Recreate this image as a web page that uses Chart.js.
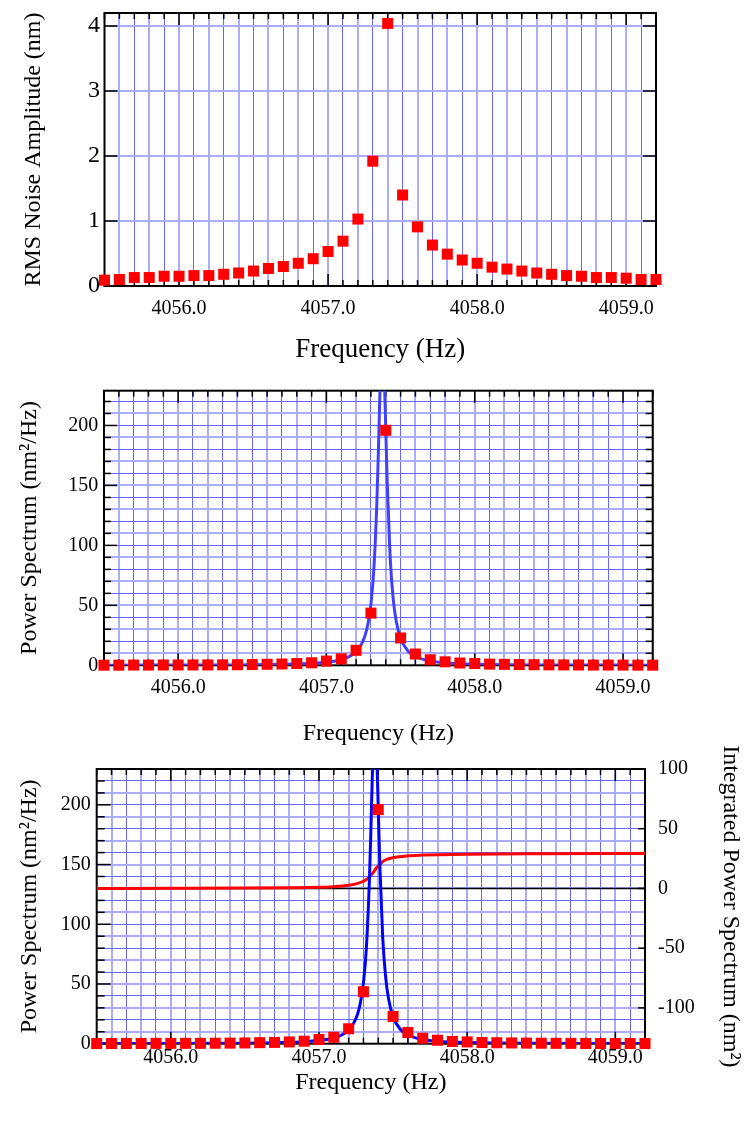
<!DOCTYPE html>
<html><head><meta charset="utf-8">
<script src="https://cdn.jsdelivr.net/npm/chart.js@4.4.0/dist/chart.umd.min.js"></script>
<style>
html,body{margin:0;padding:0;background:#fff;width:755px;height:1129px;overflow:hidden;position:relative}
canvas{position:absolute;left:0}
</style></head><body>
<canvas id="c1" width="755" height="375" style="top:0px"></canvas>
<canvas id="c2" width="755" height="380" style="top:375px"></canvas>
<canvas id="c3" width="755" height="389" style="top:740px"></canvas>
<script>
// ---- data ----
const freq = [4055.5,4055.6,4055.7,4055.8,4055.9,4056.0,4056.1,4056.2,4056.3,4056.4,4056.5,4056.6,4056.7,4056.8,4056.9,4057.0,4057.1,4057.2,4057.3,4057.4,4057.5,4057.6,4057.7,4057.8,4057.9,4058.0,4058.1,4058.2,4058.3,4058.4,4058.5,4058.6,4058.7,4058.8,4058.9,4059.0,4059.1,4059.2];
const rmsAmplitude = [0.09,0.10,0.13,0.13,0.15,0.15,0.16,0.16,0.18,0.20,0.23,0.27,0.30,0.35,0.42,0.53,0.69,1.03,1.92,4.04,1.40,0.91,0.63,0.49,0.40,0.35,0.29,0.26,0.23,0.20,0.18,0.16,0.15,0.13,0.13,0.12,0.10,0.10];
const powerSpectrum = [0.1,0.12,0.2,0.2,0.27,0.27,0.31,0.31,0.39,0.48,0.63,0.87,1.1,1.5,2.1,3.5,5.4,12.5,43.5,196,22.8,9.4,4.6,2.9,1.9,1.5,1.0,0.8,0.63,0.48,0.39,0.31,0.27,0.2,0.2,0.17,0.12,0.12];
const fitFreq = [4055.5,4055.8,4056.0,4056.3,4056.5,4056.7,4056.8,4056.9,4057.0,4057.05,4057.1,4057.15,4057.2,4057.23,4057.26,4057.28,4057.3,4057.32,4057.34,4057.35,4057.36,4057.37,4057.377,4057.385,4057.395,4057.41,4057.43,4057.45,4057.47,4057.5,4057.55,4057.6,4057.7,4057.8,4057.9,4058.0,4058.2,4058.5,4058.8,4059.2];
const fitPower = [0.11,0.15,0.2,0.32,0.48,0.81,1.11,1.63,2.6,3.44,4.77,7.05,11.4,16.2,24.7,34.6,51,80.7,136,177.5,224.6,262.6,272,260,220,151.5,89,55.6,37.2,22.5,11.9,7.3,3.52,2.07,1.36,0.96,0.55,0.3,0.18,0.11];
const intFreq = [4055.5,4056.0,4056.5,4056.8,4057.0,4057.1,4057.2,4057.25,4057.3,4057.33,4057.36,4057.39,4057.42,4057.45,4057.5,4057.6,4057.7,4057.8,4058.0,4058.5,4059.0,4059.2];
const intPower = [0,0.1,0.3,0.6,1.0,1.5,2.6,3.8,6.0,8.5,12.5,17.5,21.5,24.0,25.8,27.3,27.9,28.3,28.7,29.1,29.3,29.3];
const xTickLabels = [4056.0,4057.0,4058.0,4059.0];
const rmsTickLabels = [0,1,2,3,4];
const psdTickLabels = [0,50,100,150,200];
const intTickLabels = [-100,-50,0,50,100];

// ---- helpers ----
const SERIF = "'Liberation Serif','Times New Roman',serif";
const LIGHT = 'rgb(172,172,255)', DARK = 'rgb(104,104,255)';
const psdGrid = []; for (let v = 0; v <= 220; v += 10) psdGrid.push(v);
const near = (arr, v) => arr.some(m => Math.abs(m - v) < 1e-6);
const pts = (xs, ys) => xs.map((x, i) => ({x, y: ys[i]}));
const gridOpts = {drawTicks:false, color: c => c.index % 2 ? LIGHT : DARK, lineWidth: c => c.index % 2 ? 2 : 1};

const frameTicks = {
  id: 'frameTicks',
  beforeDatasetsDraw(chart, args, o) {
    const {ctx, chartArea: a, scales} = chart;
    const seg = (x1, y1, x2, y2) => { ctx.beginPath(); ctx.moveTo(x1, y1); ctx.lineTo(x2, y2); ctx.stroke(); };
    ctx.save();
    ctx.strokeStyle = '#000';
    ctx.lineWidth = 1.5;
    const xs = scales.x;
    for (const v of o.xTicks) {
      const p = xs.getPixelForValue(v);
      const L = near(o.xMajor, v) ? o.xMajorLen : o.xMinorLen;
      seg(p, a.top, p, a.top + L);
      seg(p, a.bottom, p, a.bottom - L);
    }
    for (const side of o.ySides) {
      const s = scales[side.id];
      for (const v of side.ticks) {
        const p = s.getPixelForValue(v);
        const L = near(side.major, v) ? side.majorLen : side.minorLen;
        if (side.left) seg(a.left, p, a.left + L, p);
        if (side.right) seg(a.right, p, a.right - L, p);
      }
    }
    if (o.zeroAxis) {
      const p = scales[o.zeroAxis].getPixelForValue(0);
      seg(a.left, p, a.right, p);
    }
    ctx.lineWidth = 2;
    ctx.strokeRect(a.left, a.top, a.right - a.left, a.bottom - a.top);
    ctx.restore();
  }
};

function xScale(height, labelPad, titleSize, titleBottom) {
  return {
    type: 'linear', min: 4055.5, max: 4059.2,
    afterBuildTicks: s => { s.ticks = freq.map(v => ({value: v})); },
    afterFit: s => { s.height = height; },
    grid: gridOpts, border: {display: false},
    ticks: {autoSkip: false, maxRotation: 0, minRotation: 0, padding: labelPad, color: '#000',
      font: {family: SERIF, size: 20},
      callback: v => near(xTickLabels, v) ? v.toFixed(1) : ''},
    title: {display: true, text: 'Frequency (Hz)', color: '#000', font: {family: SERIF, size: titleSize}, padding: {top: 0, bottom: titleBottom}}
  };
}
function redPoints(ys) {
  return {data: pts(freq, ys), showLine: false, pointStyle: 'rect', pointRadius: 7.8, pointHoverRadius: 7.8,
    pointBackgroundColor: '#ff0000', pointBorderWidth: 0, backgroundColor: '#ff0000', borderColor: '#ff0000', clip: false};
}
const common = {responsive: false, animation: false, devicePixelRatio: 1, events: []};

// ---- chart 1 ----
new Chart(document.getElementById('c1'), {
  type: 'line',
  data: {datasets: [redPoints(rmsAmplitude)]},
  options: Object.assign({}, common, {
    layout: {padding: {top: 13, right: 99, left: 0, bottom: 0}},
    plugins: {legend: {display: false}, tooltip: {enabled: false},
      frameTicks: {xTicks: freq, xMajor: xTickLabels, xMinorLen: 6, xMajorLen: 12,
        ySides: [{id: 'y', ticks: rmsTickLabels, major: rmsTickLabels, majorLen: 13, minorLen: 13, left: true, right: true}]}},
    scales: {
      x: xScale(89, 11, 27, 9),
      y: {min: 0, max: 4.2,
        afterBuildTicks: s => { s.ticks = rmsTickLabels.map(v => ({value: v})); },
        afterFit: s => { s.width = 104.5; },
        grid: {drawTicks: false, color: LIGHT, lineWidth: 2}, border: {display: false},
        ticks: {padding: 4.5, color: '#000', font: {family: SERIF, size: 24, lineHeight: 0.2}, callback: v => String(v)},
        title: {display: true, text: 'RMS Noise Amplitude (nm)', color: '#000', font: {family: SERIF, size: 24}, padding: {top: 19, bottom: 0}}}
    }
  }),
  plugins: [frameTicks]
});

// ---- chart 2 ----
new Chart(document.getElementById('c2'), {
  type: 'line',
  data: {datasets: [
    redPoints(powerSpectrum),
    {data: pts(fitFreq, fitPower), borderColor: 'rgb(64,64,255)', borderWidth: 3, pointRadius: 0, cubicInterpolationMode: 'monotone', fill: false}
  ]},
  options: Object.assign({}, common, {
    layout: {padding: {top: 15.7, right: 102.3, left: 0, bottom: 0}},
    plugins: {legend: {display: false}, tooltip: {enabled: false},
      frameTicks: {xTicks: freq, xMajor: xTickLabels, xMinorLen: 6, xMajorLen: 12,
        ySides: [{id: 'y', ticks: psdGrid, major: psdTickLabels, majorLen: 13, minorLen: 7, left: true, right: true}]}},
    scales: {
      x: xScale(89.7, 10, 24, 7.2),
      y: {min: 0, max: 229,
        afterBuildTicks: s => { s.ticks = psdGrid.map(v => ({value: v})); },
        afterFit: s => { s.width = 104; },
        grid: gridOpts, border: {display: false},
        ticks: {autoSkip: false, padding: 5.7, color: '#000', font: {family: SERIF, size: 20, lineHeight: 0.2}, callback: v => near(psdTickLabels, v) ? String(v) : ''},
        title: {display: true, text: 'Power Spectrum (nm²/Hz)', color: '#000', font: {family: SERIF, size: 24}, padding: {top: 15.8, bottom: 0}}}
    }
  }),
  plugins: [frameTicks]
});

// ---- chart 3 ----
new Chart(document.getElementById('c3'), {
  type: 'line',
  data: {datasets: [
    redPoints(powerSpectrum),
    {data: pts(fitFreq, fitPower), yAxisID: 'y', borderColor: '#0000ff', borderWidth: 3, pointRadius: 0, cubicInterpolationMode: 'monotone', fill: false},
    {data: pts(intFreq, intPower), yAxisID: 'y1', borderColor: '#ff0000', borderWidth: 3, pointRadius: 0, cubicInterpolationMode: 'monotone', fill: false}
  ]},
  options: Object.assign({}, common, {
    layout: {padding: {top: 29, right: 0, left: 0, bottom: 0}},
    plugins: {legend: {display: false}, tooltip: {enabled: false},
      frameTicks: {xTicks: freq, xMajor: xTickLabels, xMinorLen: 6, xMajorLen: 12, zeroAxis: 'y1',
        ySides: [{id: 'y', ticks: psdGrid, major: psdTickLabels, majorLen: 14, minorLen: 8, left: true, right: false},
                 {id: 'y1', ticks: intTickLabels, major: [], majorLen: 7, minorLen: 7, left: false, right: true}]}},
    scales: {
      x: xScale(85.3, 2, 24, 31.5),
      y: {position: 'left', min: 0, max: 230,
        afterBuildTicks: s => { s.ticks = psdGrid.map(v => ({value: v})); },
        afterFit: s => { s.width = 96.7; },
        grid: gridOpts, border: {display: false},
        ticks: {autoSkip: false, padding: 6, color: '#000', font: {family: SERIF, size: 20, lineHeight: 0.2}, callback: v => near(psdTickLabels, v) ? String(v) : ''},
        title: {display: true, text: 'Power Spectrum (nm²/Hz)', color: '#000', font: {family: SERIF, size: 24}, padding: {top: 15.8, bottom: 0}}},
      y1: {position: 'right', min: -130, max: 100,
        afterBuildTicks: s => { s.ticks = intTickLabels.map(v => ({value: v})); },
        afterFit: s => { s.width = 110; },
        grid: {display: false, drawTicks: false}, border: {display: false},
        ticks: {padding: 13, color: '#000', font: {family: SERIF, size: 20, lineHeight: 0.2}, callback: v => String(v)},
        title: {display: true, text: 'Integrated Power Spectrum (nm²)', color: '#000', font: {family: SERIF, size: 24}, padding: {top: 10.6, bottom: 0}}}
    }
  }),
  plugins: [frameTicks]
});
</script>
</body></html>
